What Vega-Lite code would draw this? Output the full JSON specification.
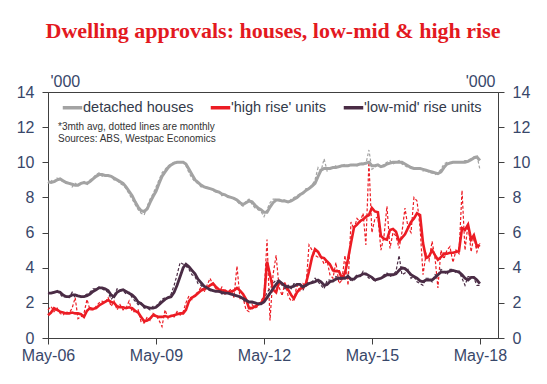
{
"$schema":"https://vega.github.io/schema/vega-lite/v6.json",
"width":450,"height":246,
"autosize":{"type":"none"},
"padding":{"left":48,"top":92,"right":49,"bottom":46},
"background":"white",
"title":{"text":"Dwelling approvals: houses, low-mid & high rise","font":"Liberation Serif","fontSize":22,"fontWeight":"bold","color":"#e3191f","anchor":"middle","offset":13,"baseline":"alphabetic"},
"config":{"view":{"stroke":"#404040","strokeWidth":1},"axis":{"labelFont":"Liberation Sans","titleFont":"Liberation Sans","grid":false}},
"data":{"values":[
{"d":"2006-05-01","h":8.90,"hm":8.8,"r":1.30,"rm":1.6,"l":2.55,"lm":2.5},
{"d":"2006-06-01","h":8.85,"hm":9.0,"r":1.45,"rm":1.8,"l":2.55,"lm":2.6},
{"d":"2006-07-01","h":8.90,"hm":8.8,"r":1.70,"rm":1.5,"l":2.60,"lm":2.6},
{"d":"2006-08-01","h":9.00,"hm":9.1,"r":1.60,"rm":1.7,"l":2.65,"lm":2.7},
{"d":"2006-09-01","h":9.05,"hm":9.0,"r":1.50,"rm":1.4,"l":2.60,"lm":2.5},
{"d":"2006-10-01","h":8.95,"hm":8.9,"r":1.45,"rm":1.3,"l":2.45,"lm":2.3},
{"d":"2006-11-01","h":8.85,"hm":8.8,"r":1.40,"rm":1.5,"l":2.35,"lm":2.4},
{"d":"2006-12-01","h":8.80,"hm":8.9,"r":1.40,"rm":1.4,"l":2.35,"lm":2.3},
{"d":"2007-01-01","h":8.75,"hm":8.6,"r":1.45,"rm":1.7,"l":2.45,"lm":2.6},
{"d":"2007-02-01","h":8.70,"hm":8.8,"r":1.40,"rm":2.3,"l":2.45,"lm":2.3},
{"d":"2007-03-01","h":8.70,"hm":8.7,"r":1.40,"rm":1.1,"l":2.40,"lm":2.4},
{"d":"2007-04-01","h":8.80,"hm":8.8,"r":1.35,"rm":1.2,"l":2.35,"lm":2.3},
{"d":"2007-05-01","h":8.85,"hm":8.9,"r":1.20,"rm":1.4,"l":2.35,"lm":2.4},
{"d":"2007-06-01","h":8.80,"hm":8.7,"r":1.55,"rm":2.2,"l":2.40,"lm":2.5},
{"d":"2007-07-01","h":8.90,"hm":9.0,"r":1.70,"rm":1.6,"l":2.50,"lm":2.6},
{"d":"2007-08-01","h":9.05,"hm":9.1,"r":1.65,"rm":1.6,"l":2.65,"lm":2.8},
{"d":"2007-09-01","h":9.20,"hm":9.3,"r":1.70,"rm":1.8,"l":2.75,"lm":2.8},
{"d":"2007-10-01","h":9.30,"hm":9.4,"r":1.85,"rm":2.0,"l":2.85,"lm":2.9},
{"d":"2007-11-01","h":9.30,"hm":9.2,"r":1.95,"rm":2.1,"l":2.85,"lm":2.8},
{"d":"2007-12-01","h":9.25,"hm":9.3,"r":2.05,"rm":2.0,"l":2.80,"lm":2.7},
{"d":"2008-01-01","h":9.25,"hm":9.2,"r":2.15,"rm":2.3,"l":2.70,"lm":2.6},
{"d":"2008-02-01","h":9.20,"hm":9.2,"r":2.05,"rm":1.8,"l":2.45,"lm":2.2},
{"d":"2008-03-01","h":9.10,"hm":9.0,"r":2.00,"rm":2.1,"l":2.35,"lm":2.4},
{"d":"2008-04-01","h":9.00,"hm":9.0,"r":1.80,"rm":1.6,"l":2.60,"lm":2.8},
{"d":"2008-05-01","h":8.90,"hm":8.8,"r":1.75,"rm":1.9,"l":2.70,"lm":2.7},
{"d":"2008-06-01","h":8.80,"hm":8.7,"r":1.75,"rm":1.6,"l":2.75,"lm":2.7},
{"d":"2008-07-01","h":8.60,"hm":8.5,"r":1.70,"rm":1.7,"l":2.65,"lm":2.5},
{"d":"2008-08-01","h":8.35,"hm":8.2,"r":1.75,"rm":2.1,"l":2.55,"lm":2.6},
{"d":"2008-09-01","h":8.10,"hm":7.9,"r":1.70,"rm":1.5,"l":2.45,"lm":2.3},
{"d":"2008-10-01","h":7.75,"hm":7.6,"r":1.55,"rm":1.5,"l":2.30,"lm":2.1},
{"d":"2008-11-01","h":7.45,"hm":7.3,"r":1.45,"rm":1.6,"l":2.05,"lm":1.9},
{"d":"2008-12-01","h":7.25,"hm":7.1,"r":1.20,"rm":0.9,"l":1.95,"lm":2.0},
{"d":"2009-01-01","h":7.20,"hm":7.0,"r":0.95,"rm":0.85,"l":1.80,"lm":1.7},
{"d":"2009-02-01","h":7.35,"hm":7.5,"r":1.00,"rm":1.2,"l":1.75,"lm":1.7},
{"d":"2009-03-01","h":7.70,"hm":7.9,"r":1.10,"rm":1.0,"l":1.70,"lm":1.6},
{"d":"2009-04-01","h":8.05,"hm":8.2,"r":1.30,"rm":1.4,"l":1.70,"lm":1.8},
{"d":"2009-05-01","h":8.35,"hm":8.6,"r":1.25,"rm":1.3,"l":1.75,"lm":1.8},
{"d":"2009-06-01","h":8.80,"hm":9.0,"r":1.20,"rm":1.0,"l":1.90,"lm":2.0},
{"d":"2009-07-01","h":9.20,"hm":9.4,"r":1.20,"rm":0.65,"l":2.05,"lm":2.2},
{"d":"2009-08-01","h":9.45,"hm":9.6,"r":1.25,"rm":1.6,"l":2.20,"lm":2.3},
{"d":"2009-09-01","h":9.70,"hm":9.8,"r":1.20,"rm":1.1,"l":2.30,"lm":2.3},
{"d":"2009-10-01","h":9.85,"hm":9.9,"r":1.25,"rm":1.3,"l":2.35,"lm":2.5},
{"d":"2009-11-01","h":9.95,"hm":10.0,"r":1.30,"rm":1.2,"l":2.60,"lm":3.0},
{"d":"2009-12-01","h":10.00,"hm":10.0,"r":1.35,"rm":1.5,"l":3.00,"lm":3.6},
{"d":"2010-01-01","h":10.00,"hm":10.0,"r":1.40,"rm":1.3,"l":3.50,"lm":4.3},
{"d":"2010-02-01","h":10.00,"hm":10.0,"r":1.40,"rm":1.5,"l":4.00,"lm":4.2},
{"d":"2010-03-01","h":9.90,"hm":9.8,"r":1.60,"rm":2.0,"l":4.20,"lm":4.1},
{"d":"2010-04-01","h":9.60,"hm":9.4,"r":2.10,"rm":2.4,"l":4.05,"lm":3.9},
{"d":"2010-05-01","h":9.30,"hm":9.1,"r":2.30,"rm":2.2,"l":3.85,"lm":3.6},
{"d":"2010-06-01","h":9.00,"hm":8.9,"r":2.40,"rm":2.5,"l":3.65,"lm":3.5},
{"d":"2010-07-01","h":8.85,"hm":8.8,"r":2.55,"rm":2.6,"l":3.35,"lm":3.1},
{"d":"2010-08-01","h":8.70,"hm":8.6,"r":2.70,"rm":2.9,"l":3.15,"lm":3.0},
{"d":"2010-09-01","h":8.60,"hm":8.6,"r":2.80,"rm":2.6,"l":2.95,"lm":2.8},
{"d":"2010-10-01","h":8.55,"hm":8.5,"r":2.85,"rm":3.0,"l":2.85,"lm":2.8},
{"d":"2010-11-01","h":8.50,"hm":8.5,"r":3.00,"rm":3.4,"l":2.75,"lm":2.7},
{"d":"2010-12-01","h":8.45,"hm":8.4,"r":3.10,"rm":3.0,"l":2.70,"lm":2.7},
{"d":"2011-01-01","h":8.35,"hm":8.3,"r":2.90,"rm":2.8,"l":2.65,"lm":2.6},
{"d":"2011-02-01","h":8.30,"hm":8.3,"r":2.75,"rm":2.6,"l":2.65,"lm":2.7},
{"d":"2011-03-01","h":8.20,"hm":8.1,"r":2.70,"rm":2.9,"l":2.60,"lm":2.5},
{"d":"2011-04-01","h":8.15,"hm":8.2,"r":2.70,"rm":2.5,"l":2.55,"lm":2.6},
{"d":"2011-05-01","h":8.05,"hm":8.0,"r":2.60,"rm":2.6,"l":2.55,"lm":2.5},
{"d":"2011-06-01","h":8.00,"hm":8.0,"r":2.65,"rm":2.8,"l":2.50,"lm":2.5},
{"d":"2011-07-01","h":7.95,"hm":7.9,"r":2.70,"rm":2.3,"l":2.45,"lm":2.4},
{"d":"2011-08-01","h":7.85,"hm":7.8,"r":2.85,"rm":4.1,"l":2.40,"lm":2.4},
{"d":"2011-09-01","h":7.70,"hm":7.6,"r":2.70,"rm":2.2,"l":2.35,"lm":2.3},
{"d":"2011-10-01","h":7.60,"hm":7.5,"r":2.50,"rm":2.3,"l":2.25,"lm":2.2},
{"d":"2011-11-01","h":7.70,"hm":7.8,"r":2.20,"rm":1.6,"l":2.15,"lm":2.0},
{"d":"2011-12-01","h":7.80,"hm":7.9,"r":1.70,"rm":1.5,"l":2.05,"lm":2.1},
{"d":"2012-01-01","h":7.75,"hm":7.6,"r":1.70,"rm":1.9,"l":2.05,"lm":2.0},
{"d":"2012-02-01","h":7.55,"hm":7.4,"r":1.80,"rm":1.7,"l":2.00,"lm":2.0},
{"d":"2012-03-01","h":7.40,"hm":7.3,"r":1.90,"rm":1.8,"l":1.95,"lm":1.9},
{"d":"2012-04-01","h":7.30,"hm":7.2,"r":2.00,"rm":2.1,"l":1.95,"lm":2.0},
{"d":"2012-05-01","h":7.15,"hm":6.9,"r":2.20,"rm":2.4,"l":2.05,"lm":2.2},
{"d":"2012-06-01","h":7.15,"hm":7.3,"r":4.35,"rm":5.6,"l":2.30,"lm":2.6},
{"d":"2012-07-01","h":7.45,"hm":7.7,"r":3.60,"rm":1.0,"l":2.55,"lm":2.8},
{"d":"2012-08-01","h":7.70,"hm":7.9,"r":2.75,"rm":3.6,"l":2.80,"lm":3.1},
{"d":"2012-09-01","h":7.85,"hm":7.9,"r":2.60,"rm":4.7,"l":3.05,"lm":3.3},
{"d":"2012-10-01","h":7.85,"hm":7.8,"r":3.20,"rm":2.9,"l":3.25,"lm":3.2},
{"d":"2012-11-01","h":7.80,"hm":7.8,"r":3.10,"rm":2.4,"l":3.10,"lm":3.0},
{"d":"2012-12-01","h":7.80,"hm":7.9,"r":3.00,"rm":3.2,"l":2.95,"lm":2.8},
{"d":"2013-01-01","h":7.75,"hm":7.7,"r":2.75,"rm":2.4,"l":2.90,"lm":3.0},
{"d":"2013-02-01","h":7.80,"hm":7.9,"r":2.45,"rm":2.1,"l":2.90,"lm":2.8},
{"d":"2013-03-01","h":7.90,"hm":8.0,"r":2.25,"rm":2.2,"l":2.95,"lm":3.1},
{"d":"2013-04-01","h":8.00,"hm":8.1,"r":2.60,"rm":3.0,"l":3.05,"lm":3.1},
{"d":"2013-05-01","h":8.15,"hm":8.2,"r":2.80,"rm":2.7,"l":3.05,"lm":3.0},
{"d":"2013-06-01","h":8.25,"hm":8.3,"r":2.85,"rm":3.1,"l":2.90,"lm":2.7},
{"d":"2013-07-01","h":8.40,"hm":8.5,"r":3.10,"rm":2.9,"l":3.00,"lm":3.2},
{"d":"2013-08-01","h":8.50,"hm":8.5,"r":3.80,"rm":5.3,"l":3.10,"lm":3.1},
{"d":"2013-09-01","h":8.65,"hm":8.7,"r":4.60,"rm":5.0,"l":3.15,"lm":3.2},
{"d":"2013-10-01","h":8.80,"hm":9.0,"r":5.05,"rm":4.7,"l":3.20,"lm":3.4},
{"d":"2013-11-01","h":9.20,"hm":9.7,"r":4.90,"rm":4.6,"l":3.30,"lm":3.2},
{"d":"2013-12-01","h":9.55,"hm":9.5,"r":4.60,"rm":4.6,"l":3.20,"lm":3.0},
{"d":"2014-01-01","h":9.65,"hm":10.2,"r":4.55,"rm":4.2,"l":3.00,"lm":2.8},
{"d":"2014-02-01","h":9.65,"hm":9.5,"r":4.35,"rm":4.4,"l":3.05,"lm":3.3},
{"d":"2014-03-01","h":9.65,"hm":9.6,"r":4.20,"rm":3.6,"l":3.20,"lm":3.3},
{"d":"2014-04-01","h":9.70,"hm":9.7,"r":3.85,"rm":3.4,"l":3.25,"lm":3.2},
{"d":"2014-05-01","h":9.70,"hm":9.8,"r":3.80,"rm":4.3,"l":3.35,"lm":3.5},
{"d":"2014-06-01","h":9.75,"hm":9.7,"r":3.80,"rm":3.1,"l":3.40,"lm":3.4},
{"d":"2014-07-01","h":9.80,"hm":9.8,"r":3.40,"rm":3.3,"l":3.40,"lm":3.3},
{"d":"2014-08-01","h":9.80,"hm":9.9,"r":3.70,"rm":4.7,"l":3.40,"lm":3.5},
{"d":"2014-09-01","h":9.80,"hm":9.8,"r":4.50,"rm":3.0,"l":3.50,"lm":3.6},
{"d":"2014-10-01","h":9.85,"hm":9.8,"r":5.40,"rm":6.6,"l":3.35,"lm":3.2},
{"d":"2014-11-01","h":9.85,"hm":9.9,"r":6.30,"rm":6.2,"l":3.35,"lm":3.4},
{"d":"2014-12-01","h":9.85,"hm":9.8,"r":6.45,"rm":6.8,"l":3.50,"lm":3.6},
{"d":"2015-01-01","h":9.90,"hm":9.9,"r":6.65,"rm":6.6,"l":3.55,"lm":3.5},
{"d":"2015-02-01","h":9.90,"hm":10.0,"r":6.75,"rm":7.1,"l":3.65,"lm":3.8},
{"d":"2015-03-01","h":9.95,"hm":9.9,"r":6.90,"rm":5.3,"l":3.65,"lm":3.6},
{"d":"2015-04-01","h":10.00,"hm":10.7,"r":7.00,"rm":10.0,"l":3.55,"lm":3.4},
{"d":"2015-05-01","h":9.80,"hm":9.6,"r":7.40,"rm":6.0,"l":3.45,"lm":3.4},
{"d":"2015-06-01","h":9.80,"hm":9.7,"r":7.20,"rm":6.8,"l":3.30,"lm":3.2},
{"d":"2015-07-01","h":9.85,"hm":9.9,"r":7.15,"rm":6.9,"l":3.35,"lm":3.4},
{"d":"2015-08-01","h":9.75,"hm":9.7,"r":5.80,"rm":5.0,"l":3.40,"lm":3.4},
{"d":"2015-09-01","h":9.80,"hm":9.9,"r":5.65,"rm":5.8,"l":3.50,"lm":3.6},
{"d":"2015-10-01","h":9.90,"hm":10.0,"r":5.60,"rm":7.5,"l":3.60,"lm":3.7},
{"d":"2015-11-01","h":9.95,"hm":10.1,"r":6.15,"rm":5.1,"l":3.60,"lm":3.5},
{"d":"2015-12-01","h":10.00,"hm":9.9,"r":6.20,"rm":6.0,"l":3.60,"lm":3.6},
{"d":"2016-01-01","h":10.00,"hm":10.0,"r":6.05,"rm":5.8,"l":3.65,"lm":3.8},
{"d":"2016-02-01","h":10.00,"hm":10.1,"r":5.50,"rm":5.1,"l":3.85,"lm":4.7},
{"d":"2016-03-01","h":10.00,"hm":9.9,"r":5.70,"rm":6.0,"l":4.00,"lm":3.6},
{"d":"2016-04-01","h":9.90,"hm":9.8,"r":5.90,"rm":7.4,"l":3.95,"lm":3.7},
{"d":"2016-05-01","h":9.80,"hm":9.7,"r":6.25,"rm":6.3,"l":3.80,"lm":3.9},
{"d":"2016-06-01","h":9.70,"hm":9.7,"r":6.60,"rm":6.0,"l":3.60,"lm":3.4},
{"d":"2016-07-01","h":9.65,"hm":9.6,"r":6.80,"rm":8.0,"l":3.50,"lm":3.5},
{"d":"2016-08-01","h":9.65,"hm":9.7,"r":7.10,"rm":7.8,"l":3.40,"lm":3.2},
{"d":"2016-09-01","h":9.65,"hm":9.6,"r":7.00,"rm":6.3,"l":3.25,"lm":3.1},
{"d":"2016-10-01","h":9.60,"hm":9.5,"r":5.40,"rm":3.6,"l":3.20,"lm":3.0},
{"d":"2016-11-01","h":9.55,"hm":9.6,"r":4.55,"rm":4.8,"l":3.30,"lm":3.4},
{"d":"2016-12-01","h":9.50,"hm":9.4,"r":4.65,"rm":4.4,"l":3.30,"lm":3.4},
{"d":"2017-01-01","h":9.45,"hm":9.4,"r":5.00,"rm":5.5,"l":3.30,"lm":3.2},
{"d":"2017-02-01","h":9.40,"hm":9.3,"r":4.70,"rm":4.5,"l":3.45,"lm":3.6},
{"d":"2017-03-01","h":9.35,"hm":9.4,"r":4.45,"rm":2.85,"l":3.60,"lm":3.5},
{"d":"2017-04-01","h":9.45,"hm":9.6,"r":4.60,"rm":5.0,"l":3.75,"lm":3.9},
{"d":"2017-05-01","h":9.70,"hm":9.9,"r":4.80,"rm":4.5,"l":3.75,"lm":3.8},
{"d":"2017-06-01","h":9.90,"hm":10.0,"r":4.80,"rm":5.0,"l":3.75,"lm":3.6},
{"d":"2017-07-01","h":9.95,"hm":10.0,"r":4.85,"rm":5.2,"l":3.80,"lm":3.9},
{"d":"2017-08-01","h":10.00,"hm":10.0,"r":4.85,"rm":4.3,"l":3.85,"lm":3.9},
{"d":"2017-09-01","h":10.00,"hm":10.0,"r":4.90,"rm":5.0,"l":3.80,"lm":3.7},
{"d":"2017-10-01","h":10.00,"hm":10.0,"r":4.95,"rm":4.8,"l":3.75,"lm":3.8},
{"d":"2017-11-01","h":10.00,"hm":10.0,"r":6.25,"rm":8.4,"l":3.60,"lm":3.4},
{"d":"2017-12-01","h":10.00,"hm":10.1,"r":6.15,"rm":5.0,"l":3.40,"lm":3.0},
{"d":"2018-01-01","h":10.05,"hm":10.1,"r":6.45,"rm":6.5,"l":3.30,"lm":3.5},
{"d":"2018-02-01","h":10.15,"hm":10.2,"r":5.60,"rm":4.9,"l":3.45,"lm":3.5},
{"d":"2018-03-01","h":10.25,"hm":10.3,"r":5.85,"rm":5.8,"l":3.45,"lm":3.4},
{"d":"2018-04-01","h":10.30,"hm":10.4,"r":5.20,"rm":4.9,"l":3.30,"lm":3.0},
{"d":"2018-05-01","h":10.10,"hm":9.6,"r":5.30,"rm":5.4,"l":3.10,"lm":3.0}
]},
"encoding":{
  "x":{"field":"d","type":"temporal","title":null,
       "scale":{"type":"utc","domain":[{"year":2006,"month":5,"date":1,"utc":true},{"year":2018,"month":11,"date":1,"utc":true}]},
       "axis":{"values":[{"year":2006,"month":5,"date":1,"utc":true},{"year":2009,"month":5,"date":1,"utc":true},{"year":2012,"month":5,"date":1,"utc":true},{"year":2015,"month":5,"date":1,"utc":true},{"year":2018,"month":5,"date":1,"utc":true}],
               "format":"%b-%y","labelFontSize":16,"labelColor":"#38476a","tickSize":6,"tickColor":"#404040","domainColor":"#404040","labelPadding":3,"labelFlush":false,"labelOverlap":false}}
},
"layer":[
 {"mark":{"type":"line","strokeWidth":1.2,"strokeDash":[3,2]},
  "encoding":{
   "y":{"field":"hm","type":"quantitative","scale":{"domain":[0,14],"nice":false},
        "axis":{"orient":"left","values":[0,2,4,6,8,10,12,14],"labelFontSize":16,"labelColor":"#38476a","tickSize":6,"tickColor":"#404040","domainColor":"#404040","labelPadding":8,
                "title":"'000","titleAngle":0,"titleAlign":"left","titleBaseline":"alphabetic","titleX":2,"titleY":-6,"titleFontSize":16,"titleFontWeight":"normal","titleColor":"#38476a"}},
   "color":{"datum":"detached houses","type":"nominal",
     "scale":{"domain":["detached houses","'high rise' units","'low-mid' rise units"],"range":["#a3a3a3","#ec1c24","#4a2c45"]},
     "legend":{"orient":"none","legendX":13,"legendY":4,"direction":"horizontal","title":null,"symbolType":"stroke","symbolSize":380,"symbolStrokeWidth":3.5,"symbolDash":[],"labelFontSize":14.5,"labelFont":"Liberation Sans","labelColor":"#333a4a","columnPadding":9,"labelOffset":-1,"padding":0}}
  }},
 {"mark":{"type":"line","strokeWidth":1.2,"strokeDash":[3,2]},
  "encoding":{
   "y":{"field":"rm","type":"quantitative",
        "axis":{"orient":"right","values":[0,2,4,6,8,10,12,14],"labelFontSize":16,"labelColor":"#38476a","tickSize":6,"tickColor":"#404040","domainColor":"#404040","labelPadding":8,
                "title":"'000","titleAngle":0,"titleAlign":"right","titleBaseline":"alphabetic","titleX":-3,"titleY":-6,"titleFontSize":16,"titleFontWeight":"normal","titleColor":"#38476a"}},
   "color":{"datum":"'high rise' units","type":"nominal"}
  }},
 {"mark":{"type":"line","strokeWidth":1.2,"strokeDash":[3,2]},
  "encoding":{
   "y":{"field":"lm","type":"quantitative","axis":null},
   "color":{"datum":"'low-mid' rise units","type":"nominal"}
  }},
 {"mark":{"type":"line","strokeWidth":3},
  "encoding":{
   "y":{"field":"h","type":"quantitative","axis":null},
   "color":{"datum":"detached houses","type":"nominal"}
  }},
 {"mark":{"type":"line","strokeWidth":2.6},
  "encoding":{
   "y":{"field":"r","type":"quantitative","axis":null},
   "color":{"datum":"'high rise' units","type":"nominal"}
  }},
 {"mark":{"type":"line","strokeWidth":2.8},
  "encoding":{
   "y":{"field":"l","type":"quantitative","axis":null},
   "color":{"datum":"'low-mid' rise units","type":"nominal"}
  }},
 {"transform":[{"filter":"datum.h == 8.9 && datum.r == 1.3"}],
  "mark":{"type":"text","text":["*3mth avg, dotted lines are monthly","Sources: ABS, Westpac Economics"],"align":"left","baseline":"top","dx":10,"fontSize":10,"lineHeight":12,"font":"Liberation Sans","color":"#333333"},
  "encoding":{
   "x":{"datum":{"year":2006,"month":5,"date":1,"utc":true},"type":"temporal"},
   "y":{"datum":12.3,"type":"quantitative","axis":null}
  }}
],
"resolve":{"axis":{"y":"independent"}}
}
